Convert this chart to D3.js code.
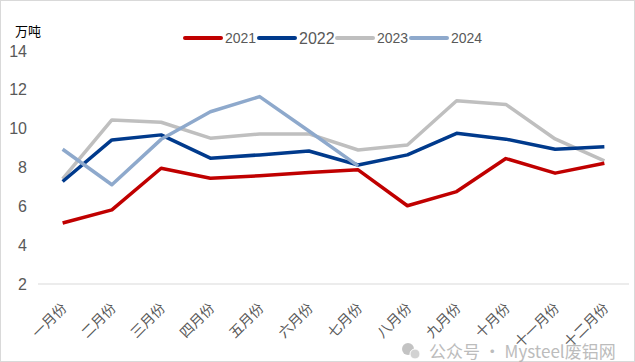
<!DOCTYPE html>
<html>
<head>
<meta charset="utf-8">
<script src="https://cdn.jsdelivr.net/npm/d3@7"></script>
<style>
  body { margin: 0; background: #fff; }
  svg text { font-family: "Noto Sans CJK SC", "Liberation Sans", sans-serif; }
</style>
</head>
<body>
<div id="chart"></div>
<script>
//Chart data
var months = ["一月份","二月份","三月份","四月份","五月份","六月份","七月份","八月份","九月份","十月份","十一月份","十二月份"];
var years = ["2021","2022","2023","2024"];
var v2021 = [5.14, 5.82, 7.96, 7.45, 7.57, 7.74, 7.88, 6.03, 6.76, 8.46, 7.71, 8.22];
var v2022 = [7.28, 9.42, 9.68, 8.48, 8.65, 8.85, 8.13, 8.65, 9.76, 9.46, 8.94, 9.07];
var v2023 = [7.41, 10.45, 10.33, 9.51, 9.73, 9.73, 8.90, 9.16, 11.44, 11.25, 9.47, 8.34];
var v2024 = [8.94, 7.11, 9.45, 10.87, 11.65, 9.88, 8.08];
var yTicks = [2, 4, 6, 8, 10, 12, 14];

//Canvas
var W = 635, H = 362;
var margin = {top: 51, right: 6, bottom: 78, left: 38},
	w = W - margin.left - margin.right,
	h = H - margin.top - margin.bottom;

var colors = {"2021": "#C00000", "2022": "#003A8C", "2023": "#BFBFBF", "2024": "#8EA9CC"};
var seriesData = {"2021": v2021, "2022": v2022, "2023": v2023, "2024": v2024};

var svg = d3.select("#chart").append("svg")
	.attr("width", W)
	.attr("height", H);

//Outer border
svg.append("rect")
	.attr("x", 0.5).attr("y", 0.5)
	.attr("width", W - 1).attr("height", H - 1)
	.attr("fill", "#fff")
	.attr("stroke", "#d9d9d9");

var g = svg.append("g")
	.attr("transform", "translate(" + margin.left + "," + margin.top + ")");

//Scales
var xScale = d3.scaleBand().domain(months).range([0, w]);
var yScale = d3.scaleLinear().domain([2, 14]).range([h, 0]);
var xPos = function(i) { return xScale(months[i]) + xScale.bandwidth() / 2; };

//Baseline
g.append("line")
	.attr("x1", 0).attr("x2", w)
	.attr("y1", yScale(2)).attr("y2", yScale(2))
	.attr("stroke", "#d9d9d9")
	.attr("stroke-width", 1);

//Y axis labels
var yAxis = d3.axisLeft(yScale).tickValues(yTicks).tickSize(0).tickPadding(11);
g.append("g")
	.call(yAxis)
	.call(function(s) { s.select(".domain").remove(); })
	.selectAll("text")
		.attr("fill", "#595959")
		.style("font-family", "'Liberation Sans', sans-serif")
		.style("font-size", "16px");

//X axis labels (rotated)
var xAxis = d3.axisBottom(xScale).tickSize(0).tickPadding(0);
g.append("g")
	.attr("transform", "translate(0," + h + ")")
	.call(xAxis)
	.call(function(s) { s.select(".domain").remove(); })
	.selectAll("text")
		.attr("fill", "#595959")
		.style("font-size", "14px")
		.attr("text-anchor", "end")
		.attr("dy", 0)
		.attr("transform", "translate(5,25) rotate(-45)");

//Lines
var line = d3.line()
	.x(function(d, i) { return xPos(i); })
	.y(function(d) { return yScale(d); });

["2023", "2022", "2021", "2024"].forEach(function(yr) {
	g.append("path")
		.datum(seriesData[yr])
		.attr("d", line)
		.attr("fill", "none")
		.attr("stroke", colors[yr])
		.attr("stroke-width", 3.5)
		.attr("stroke-linejoin", "round");
});

//Unit label
svg.append("text")
	.attr("x", 15).attr("y", 36)
	.attr("fill", "#000")
	.style("font-size", "13px")
	.text("万吨");

//Legend
var legendX = [185, 259, 337, 411];
var legend = svg.append("g").attr("class", "legend");
years.forEach(function(yr, i) {
	var lg = legend.append("g").attr("transform", "translate(" + legendX[i] + ",38)");
	lg.append("line")
		.attr("x1", 0).attr("x2", 36)
		.attr("stroke", colors[yr])
		.attr("stroke-width", 4)
		.attr("stroke-linecap", "round");
	lg.append("text")
		.attr("x", 40).attr("dy", "0.35em")
		.attr("fill", "#595959")
		.style("font-family", "'Liberation Sans', sans-serif")
		.style("font-size", yr === "2022" ? "16px" : "14px")
		.text(yr);
});

//Watermark
var wm = svg.append("g").attr("opacity", 0.75);
wm.append("circle").attr("cx", 408).attr("cy", 349).attr("r", 6).attr("fill", "#b0b0b0");
wm.append("circle").attr("cx", 415).attr("cy", 354).attr("r", 5).attr("fill", "#c4c4c4").attr("stroke", "#fff").attr("stroke-width", 1);
wm.append("text")
	.attr("x", 429).attr("y", 358)
	.attr("fill", "#a6a6a6")
	.style("font-size", "17px")
	.text("公众号 · Mysteel废铝网");
</script>
</body>
</html>
